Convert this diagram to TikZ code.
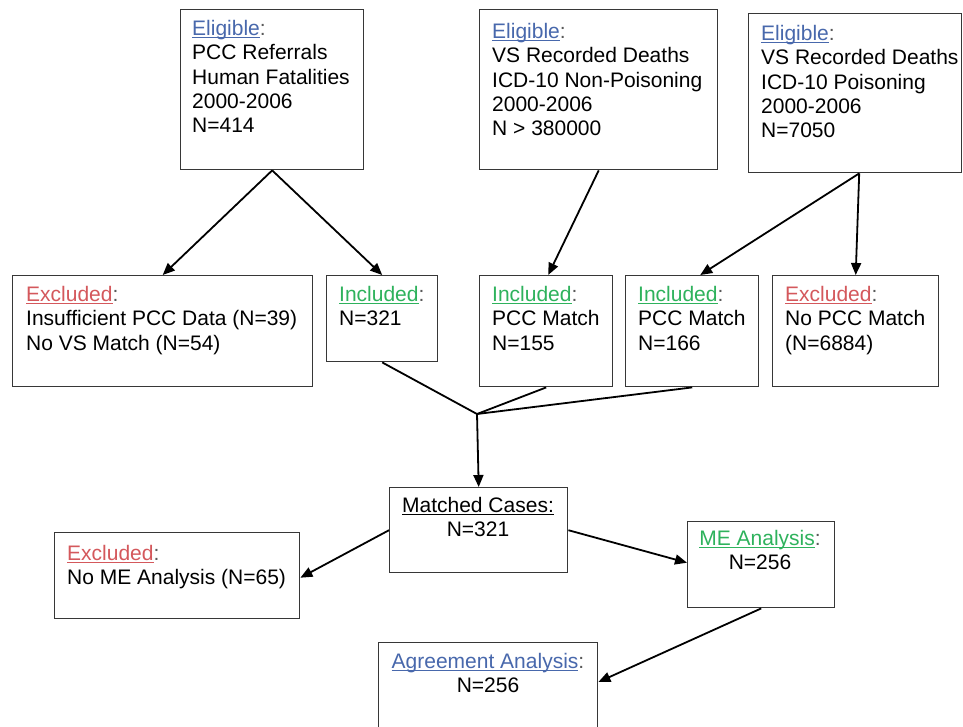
\documentclass[tikz,border=0pt]{standalone}
\usepackage{fontspec}
\setmainfont{Liberation Sans}
\usetikzlibrary{arrows.meta}
\definecolor{elig}{RGB}{72,104,172}
\definecolor{excl}{RGB}{212,88,92}
\definecolor{incl}{RGB}{46,178,92}
\definecolor{boxline}{RGB}{55,55,55}
\newcommand\myul[1]{\setbox0\hbox{#1}\rlap{\rule[-2.6pt]{\wd0}{1.3pt}}\box0}
\newcommand\hd[2]{{\color{#1}\myul{#2}}\textcolor{black!65}{:}}
\begin{document}
\begin{tikzpicture}[x=1pt,y=-1pt,
  box/.style={draw=boxline, line width=1.4pt, inner sep=0pt, anchor=north west},
  txt/.style={inner sep=0pt, align=left, anchor=north west, font=\fontsize{21}{24.3}\selectfont},
  ctxt/.style={inner sep=0pt, align=center, anchor=north, font=\fontsize{21}{24.3}\selectfont},
  arr/.style={line width=1.8pt, -{Triangle[length=12pt,width=10pt]}},
  ln/.style={line width=1.8pt}]
\clip (0,0) rectangle (963,726);
\fill[white] (0,0) rectangle (963,726);
% boxes
\node[box, minimum width=183pt, minimum height=160pt] (A) at (180,9) {};
\node[box, minimum width=238pt, minimum height=160pt] (B) at (479,9) {};
\node[box, minimum width=213pt, minimum height=159pt] (C) at (748,13) {};
\node[box, minimum width=300pt, minimum height=111pt] (D) at (12,275) {};
\node[box, minimum width=111pt, minimum height=86pt] (E) at (326,275) {};
\node[box, minimum width=133pt, minimum height=111pt] (F) at (479,275) {};
\node[box, minimum width=133pt, minimum height=111pt] (G) at (625,275) {};
\node[box, minimum width=166pt, minimum height=111pt] (H) at (772,275) {};
\node[box, minimum width=178pt, minimum height=85pt] (M) at (389,487) {};
\node[box, minimum width=245pt, minimum height=86pt] (X) at (54,532) {};
\node[box, minimum width=147pt, minimum height=86pt] (ME) at (687,521) {};
\node[box, minimum width=219pt, minimum height=100pt] (AG) at (378,642) {};
% texts
\node[txt] (At) at (192,20) {\hd{elig}{Eligible}\\PCC Referrals\\Human Fatalities\\2000-2006\\N=414};
\node[txt] (Bt) at (492,23) {\hd{elig}{Eligible}\\VS Recorded Deaths\\ICD-10 Non-Poisoning\\2000-2006\\N > 380000};
\node[txt] (Ct) at (761,25) {\hd{elig}{Eligible}\\VS Recorded Deaths\\ICD-10 Poisoning\\2000-2006\\N=7050};
\node[txt] (Dt) at (26,286) {\hd{excl}{Excluded}\\Insufficient PCC Data (N=39)\\No VS Match (N=54)};
\node[txt] (Et) at (339,286) {\hd{incl}{Included}\\N=321};
\node[txt] (Ft) at (492,286) {\hd{incl}{Included}\\PCC Match\\N=155};
\node[txt] (Gt) at (638,286) {\hd{incl}{Included}\\PCC Match\\N=166};
\node[txt] (Ht) at (785,286) {\hd{excl}{Excluded}\\No PCC Match\\(N=6884)};
\node[ctxt] (Mt) at (478,497) {\myul{Matched Cases:}\\N=321};
\node[txt] (Xt) at (67,545) {\hd{excl}{Excluded}\\No ME Analysis (N=65)};
\node[ctxt] (MEt) at (760,530) {\hd{incl}{ME Analysis}\\N=256};
\node[ctxt] (AGt) at (488,653) {\hd{elig}{Agreement Analysis}\\N=256};
% connectors
\coordinate (J) at (477,414);
\draw[arr] (A.south) -- (D.north);
\draw[arr] (A.south) -- (E.north);
\draw[arr] (B.south) -- ([xshift=2pt]F.north);
\draw[arr] ([xshift=4pt]C.south) -- ([xshift=8pt]G.north);
\draw[arr] ([xshift=4pt]C.south) -- (H.north);
\draw[ln] (E.south) -- (J);
\draw[ln] (F.south) -- (J);
\draw[ln] (G.south) -- (J);
\draw[arr] (J) -- (M.north);
\draw[arr] (M.west) -- ([yshift=-2pt]X.east);
\draw[arr] (M.east) -- ([yshift=2pt]ME.west);
\draw[arr] (ME.south) -- ([yshift=-40pt]AG.north east);
\end{tikzpicture}
\end{document}
